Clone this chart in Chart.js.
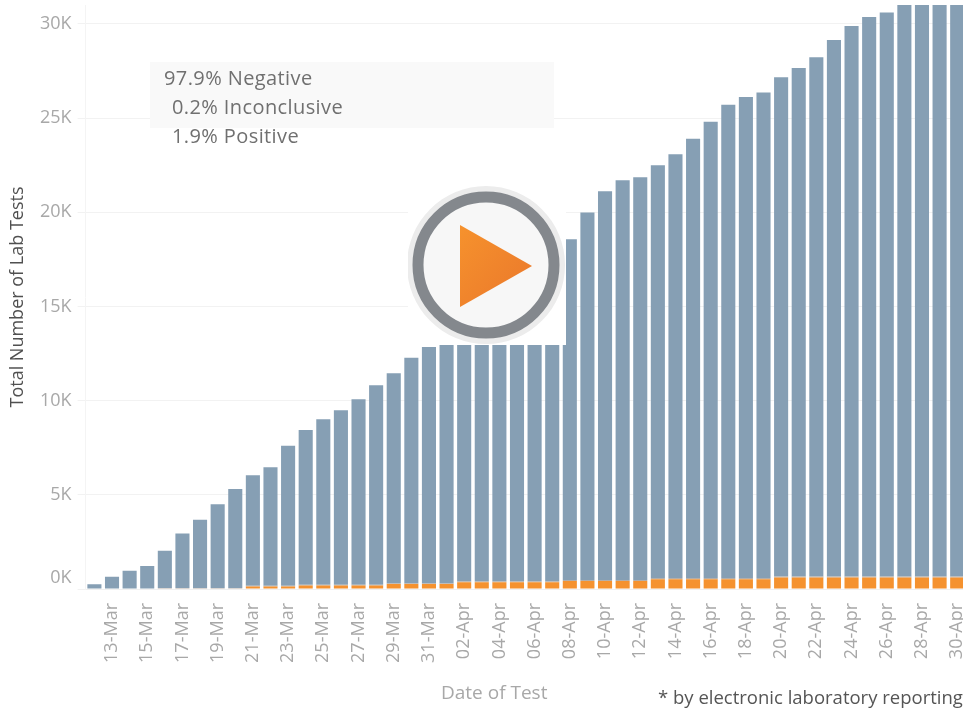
<!DOCTYPE html>
<html>
<head>
<meta charset="utf-8">
<title>Total Number of Lab Tests</title>
<script src="https://cdn.jsdelivr.net/npm/chart.js@4"></script>
<style>
    html, body { margin: 0; padding: 0; width: 963px; height: 711px; overflow: hidden; background: #fff; }
    body { position: relative; font-family: "Open Sans", sans-serif; }
    #page { position: absolute; left: 0; top: 0; width: 963px; height: 711px; overflow: hidden; filter: blur(0.4px); }
    #chart { position: absolute; left: 0; top: 0; }
    #noteBox { position: absolute; left: 150px; top: 62px; width: 404px; height: 66px; background: #f9f9f9; }
    .note { position: absolute; font-size: 20px; letter-spacing: 0.4px; line-height: 24px; color: #707070; white-space: nowrap; }
    #dateTitle { position: absolute; left: 441px; top: 680px; font-size: 19px; line-height: 24px; color: #a8a8a8; white-space: nowrap; }
    #footnote { position: absolute; left: 658px; top: 685px; font-size: 18.5px; line-height: 24px; color: #555; white-space: nowrap; }
    #play { position: absolute; left: 408px; top: 180px; }
</style>
</head>
<body>
<div id="page">
    <canvas id="chart" width="966" height="711"></canvas>
    <div id="noteBox"></div>
    <div class="note" style="left:164px;top:66px">97.9% Negative</div>
    <div class="note" style="left:172px;top:95px">0.2% Inconclusive</div>
    <div class="note" style="left:172px;top:124px">1.9% Positive</div>
    <div id="dateTitle">Date of Test</div>
    <div id="footnote">* by electronic laboratory reporting</div>
    <svg id="play" width="158" height="165" viewBox="408 180 158 165">
        <defs>
            <linearGradient id="playFill" x1="0" y1="0" x2="1" y2="1">
                <stop offset="0" stop-color="#f6922d"></stop>
                <stop offset="1" stop-color="#ea772b"></stop>
            </linearGradient>
        </defs>
        <rect x="408" y="180" width="158" height="165" fill="#fff"></rect>
        <circle cx="486" cy="265" r="79" fill="#ececec"></circle>
        <circle cx="486" cy="265" r="68" fill="#f7f7f7" stroke="#84888d" stroke-width="11"></circle>
        <polygon points="460,225 460,307 532,266" fill="url(#playFill)"></polygon>
    </svg>
</div>
<script>
var dates = ['12-Mar','13-Mar','14-Mar','15-Mar','16-Mar','17-Mar','18-Mar','19-Mar','20-Mar','21-Mar',
    '22-Mar','23-Mar','24-Mar','25-Mar','26-Mar','27-Mar','28-Mar','29-Mar','30-Mar','31-Mar',
    '01-Apr','02-Apr','03-Apr','04-Apr','05-Apr','06-Apr','07-Apr','08-Apr','09-Apr','10-Apr',
    '11-Apr','12-Apr','13-Apr','14-Apr','15-Apr','16-Apr','17-Apr','18-Apr','19-Apr','20-Apr',
    '21-Apr','22-Apr','23-Apr','24-Apr','25-Apr','26-Apr','27-Apr','28-Apr','29-Apr','30-Apr'];

var positive = [0,0,0,0,30,30,30,30,30,130,
    130,130,190,190,190,190,190,260,260,260,
    260,360,360,360,360,360,360,430,430,430,
    430,430,520,520,520,520,520,520,520,610,
    610,610,610,610,610,610,610,610,610,610];

var inconclusive = [0,0,0,0,20,20,20,20,20,40,
    40,40,40,40,40,40,40,40,40,40,
    40,50,50,50,50,50,50,50,50,50,
    50,50,60,60,60,60,60,60,60,60,
    60,60,60,60,60,60,60,60,60,60];

// tops from 01-Apr to 07-Apr sit behind the play button, last four run off the axis
var negative = [250,650,970,1220,1985,2890,3630,4445,5260,5865,
    6290,7430,8210,8780,9260,9840,10585,11150,11970,12550,
    13000,13590,14290,14990,15690,16490,17290,18090,19500,20640,
    21220,21380,21920,22500,23320,24220,25120,25530,25770,26500,
    26980,27560,28470,29210,29690,29930,30330,30330,30330,30330];

var yTicks = [0, 5000, 10000, 15000, 20000, 25000, 30000];

var tickFont = { family: '"Open Sans", sans-serif', size: 18 };

new Chart(document.getElementById('chart').getContext('2d'), {
    type: 'bar',
    data: {
        labels: dates,
        datasets: [
            { label: 'Positive', data: positive, backgroundColor: '#f5922f' },
            { label: 'Inconclusive', data: inconclusive, backgroundColor: '#b5aea8' },
            { label: 'Negative', data: negative, backgroundColor: '#869fb4' }
        ]
    },
    options: {
        responsive: false,
        animation: false,
        layout: { padding: { top: 5 } },
        plugins: { legend: { display: false }, tooltip: { enabled: false } },
        datasets: { bar: { barPercentage: 0.8, categoryPercentage: 1 } },
        scales: {
            x: {
                stacked: true,
                afterFit: function (scale) {
                    scale.height = 122;
                    scale.paddingRight = 0;
                    scale.paddingLeft = 0;
                },
                grid: { display: false },
                border: { color: '#f0f0f0' },
                ticks: {
                    autoSkip: false,
                    minRotation: 90,
                    maxRotation: 90,
                    padding: 6,
                    color: '#a8a8a8',
                    font: tickFont,
                    callback: function (value, index) {
                        return index % 2 == 1 ? dates[index] : '';
                    }
                }
            },
            y: {
                stacked: true,
                min: 0,
                max: 31000,
                // stepSize gets rounded to fit the max, so set the ticks directly
                afterBuildTicks: function (scale) {
                    scale.ticks = yTicks.map(function (v) { return { value: v }; });
                },
                afterFit: function (scale) {
                    scale.width = 85.6;
                    scale.paddingTop = 0;
                    scale.paddingBottom = 0;
                },
                title: {
                    display: true,
                    text: 'Total Number of Lab Tests',
                    color: '#505050',
                    font: { family: '"Open Sans", sans-serif', size: 18 },
                    padding: { top: 7, bottom: 0 }
                },
                grid: { color: '#f2f2f2', tickLength: 8 },
                border: { color: '#f4f4f4' },
                ticks: {
                    padding: 6,
                    color: '#a8a8a8',
                    font: tickFont,
                    callback: function (value) {
                        // the 0K label sits above the baseline, blank second line lifts it
                        return value == 0 ? ['0K', ''] : (value / 1000) + 'K';
                    }
                }
            }
        }
    }
});
</script>
</body>
</html>
